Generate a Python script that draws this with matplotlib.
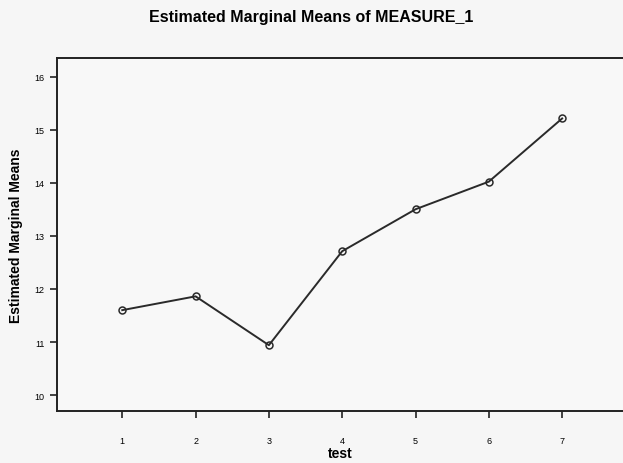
import numpy as np
import matplotlib
matplotlib.use('Agg')
import matplotlib.pyplot as plt

# data
test = [1, 2, 3, 4, 5, 6, 7]
means = [11.60, 11.86, 10.94, 12.71, 13.50, 14.02, 15.21]
yticks = [10, 11, 12, 13, 14, 15, 16]

plt.rcParams['font.family'] = ['Liberation Sans', 'DejaVu Sans']

fig = plt.figure(figsize=(6.23, 4.64), dpi=100, facecolor='#f6f6f6')
ax = fig.add_axes([0.0915, 0.112, 0.9085, 0.761])
ax.set_facecolor('#f8f8f8')

ax.plot(test, means, '-', color='#2a2a2a', lw=1.4,
        marker='o', ms=5, mfc='none', mec='#2a2a2a', mew=1.1)

ax.set_xlim(0.11, 7.83)
ax.set_ylim(9.70, 16.35)
ax.set_xticks(test)
ax.set_yticks(yticks)
ax.tick_params(axis='both', labelsize=6.5, length=5, width=1.2, color='#222222')
ax.tick_params(axis='x', pad=13)
ax.tick_params(axis='y', pad=4)

for s in ['left', 'top', 'bottom']:
    ax.spines[s].set_linewidth(1.4)
    ax.spines[s].set_color('#222222')
ax.spines['right'].set_visible(False)

ax.set_xlabel('test', fontsize=10, fontweight='bold', labelpad=1)
ax.set_ylabel('Estimated Marginal Means', fontsize=10, fontweight='bold', labelpad=8)
fig.text(0.50, 0.962, 'Estimated Marginal Means of MEASURE_1',
         ha='center', va='center', fontsize=11.5, fontweight='bold')

fig.savefig('out.png', dpi=100, facecolor=fig.get_facecolor())
